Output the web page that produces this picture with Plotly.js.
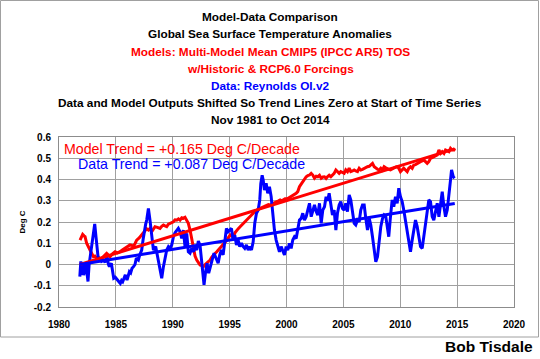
<!DOCTYPE html>
<html>
<head>
<meta charset="utf-8">
<script src="https://cdn.plot.ly/plotly-3.0.1.min.js"></script>
<style>
  html, body { margin: 0; padding: 0; background: #ffffff; }
  #chart { width: 540px; height: 359px; }
</style>
</head>
<body>
<div id="chart"></div>
<script>
// ---- Data ----
const dataYears = [
  1981.83,1981.92,1982.00,1982.08,1982.17,1982.29,1982.38,1982.46,1982.55,1982.65,1982.75,1982.85,1982.96,
  1983.05,1983.14,1983.25,1983.34,1983.43,1983.55,1983.65,1983.75,1983.93,1984.05,1984.22,1984.35,1984.43,
  1984.60,1984.70,1984.81,1984.95,1985.10,1985.25,1985.39,1985.50,1985.60,1985.72,1985.83,1985.98,1986.10,
  1986.19,1986.30,1986.42,1986.55,1986.68,1986.80,1986.98,1987.10,1987.27,1987.40,1987.50,1987.62,1987.71,
  1987.86,1988.00,1988.15,1988.30,1988.50,1988.62,1988.74,1988.88,1989.03,1989.18,1989.32,1989.47,1989.62,
  1989.76,1989.91,1990.06,1990.20,1990.35,1990.49,1990.64,1990.79,1990.93,1991.08,1991.23,1991.37,1991.52,
  1991.67,1991.82,1991.96,1992.11,1992.25,1992.40,1992.52,1992.62,1992.75,1992.87,1993.02,1993.16,1993.31,
  1993.46,1993.63,1993.84,1993.99,1994.13,1994.28,1994.43,1994.57,1994.72,1994.87,1995.01,1995.16,1995.31,
  1995.45,1995.60,1995.75,1995.89,1996.04,1996.18,1996.33,1996.48,1996.63,1996.77,1996.92,1997.07,1997.21,
  1997.36,1997.51,1997.65,1997.74,1997.86,1997.95,1998.06,1998.21,1998.35,1998.50,1998.65,1998.79,1998.94,
  1999.09,1999.23,1999.38,1999.53,1999.67,1999.82,1999.97,2000.11,2000.26,2000.41,2000.55,2000.70,2000.85,
  2000.99,2001.14,2001.29,2001.43,2001.58,2001.73,2001.87,2002.02,2002.17,2002.31,2002.46,2002.61,2002.75,
  2002.90,2003.05,2003.19,2003.34,2003.48,2003.62,2003.75,2003.90,2004.04,2004.19,2004.34,2004.48,2004.63,
  2004.77,2004.92,2005.07,2005.21,2005.36,2005.51,2005.65,2005.80,2005.95,2006.09,2006.24,2006.39,2006.53,
  2006.68,2006.83,2006.97,2007.12,2007.27,2007.41,2007.56,2007.71,2007.85,2008.00,2008.14,2008.29,2008.44,
  2008.58,2008.73,2008.88,2008.99,2009.14,2009.29,2009.43,2009.58,2009.73,2009.87,2010.02,2010.17,2010.31,
  2010.46,2010.61,2010.75,2010.90,2011.05,2011.19,2011.34,2011.49,2011.63,2011.78,2011.93,2012.07,2012.22,
  2012.37,2012.51,2012.66,2012.81,2012.95,2013.10,2013.25,2013.40,2013.54,2013.69,2013.84,2013.98,2014.13,
  2014.28,2014.42,2014.51,2014.66,2014.77
];
const dataValues = [
  -0.057,0.015,-0.050,0.010,-0.050,-0.020,0.005,-0.040,-0.080,0.000,0.037,0.080,0.115,
  0.160,0.191,0.131,0.080,0.037,0.021,0.030,0.015,0.021,0.010,0.037,0.000,-0.010,
  0.006,-0.040,-0.065,-0.060,-0.073,-0.080,-0.089,-0.075,-0.081,-0.060,-0.049,-0.073,-0.050,
  -0.034,-0.040,-0.018,-0.010,0.000,0.030,0.021,0.045,0.068,0.120,0.162,0.190,0.209,
  0.264,0.209,0.131,0.068,0.084,0.050,0.021,-0.026,-0.065,-0.010,0.021,0.068,0.084,
  0.076,0.092,0.131,0.150,0.162,0.170,0.154,0.123,0.162,0.084,0.147,0.060,0.053,
  0.076,0.060,0.084,0.068,0.110,0.090,0.020,-0.030,-0.096,-0.041,0.006,-0.041,-0.002,
  0.021,0.053,0.029,0.006,0.045,0.068,0.045,0.115,0.170,0.154,0.162,0.170,0.115,
  0.139,0.092,0.115,0.084,0.100,0.085,0.076,0.092,0.068,0.084,0.068,0.107,0.194,
  0.241,0.256,0.304,0.380,0.420,0.398,0.350,0.382,0.335,0.366,0.320,0.241,0.162,
  0.115,0.084,0.060,0.084,0.068,0.045,0.084,0.068,0.100,0.076,0.115,0.131,0.123,
  0.162,0.209,0.217,0.241,0.209,0.225,0.256,0.288,0.225,0.256,0.280,0.249,0.233,
  0.288,0.194,0.256,0.272,0.319,0.300,0.335,0.272,0.233,0.256,0.162,0.241,0.280,
  0.296,0.264,0.256,0.288,0.249,0.327,0.304,0.256,0.194,0.186,0.209,0.201,0.256,
  0.280,0.280,0.217,0.162,0.217,0.186,0.131,0.068,0.013,0.037,0.115,0.178,0.217,
  0.233,0.225,0.178,0.131,0.225,0.304,0.272,0.319,0.288,0.359,0.319,0.296,0.256,
  0.209,0.162,0.115,0.060,0.115,0.162,0.209,0.178,0.131,0.084,0.076,0.131,0.194,
  0.256,0.304,0.296,0.225,0.209,0.256,0.288,0.225,0.296,0.343,0.272,0.225,0.256,
  0.319,0.398,0.445,0.413,0.406
];
const modelYears = [
  1981.85,1981.95,1982.08,1982.20,1982.29,1982.43,1982.55,1982.67,1982.87,1983.02,1983.15,1983.31,1983.45,
  1983.61,1983.75,1983.90,1984.05,1984.19,1984.35,1984.49,1984.70,1984.93,1985.15,1985.37,1985.60,1985.80,
  1986.00,1986.24,1986.40,1986.54,1986.70,1986.83,1987.05,1987.27,1987.42,1987.56,1987.70,1987.86,1988.00,
  1988.15,1988.30,1988.44,1988.65,1988.88,1989.03,1989.18,1989.32,1989.47,1989.62,1989.76,1989.91,1990.06,
  1990.20,1990.35,1990.50,1990.64,1990.79,1990.93,1991.08,1991.23,1991.37,1991.52,1991.67,1991.82,1991.96,
  1992.11,1992.25,1992.40,1992.55,1992.70,1992.85,1992.99,1993.14,1993.28,1993.43,1993.57,1993.72,1993.87,
  1994.01,1994.16,1994.30,1994.45,1994.60,1994.75,1994.90,1995.04,1995.18,1995.33,1995.48,1995.63,1995.78,
  1995.92,1996.06,1996.21,1996.36,1996.50,1996.65,1996.80,1996.95,1997.09,1997.24,1997.39,1997.54,1997.68,
  1997.83,1997.97,1998.12,1998.27,1998.41,1998.56,1998.71,1998.85,1999.00,1999.15,1999.30,1999.44,1999.59,
  1999.74,1999.88,2000.11,2000.26,2000.41,2000.55,2000.70,2000.85,2000.99,2001.14,2001.29,2001.43,2001.58,
  2001.73,2001.87,2002.02,2002.17,2002.31,2002.46,2002.61,2002.75,2002.90,2003.05,2003.20,2003.34,2003.48,
  2003.60,2003.75,2003.90,2004.04,2004.19,2004.34,2004.48,2004.63,2004.77,2004.92,2005.07,2005.21,2005.36,
  2005.51,2005.65,2005.80,2005.95,2006.09,2006.24,2006.39,2006.53,2006.68,2006.83,2006.97,2007.12,2007.27,
  2007.41,2007.56,2007.71,2007.85,2008.00,2008.14,2008.29,2008.44,2008.58,2008.73,2008.88,2009.00,2009.14,
  2009.29,2009.43,2009.58,2009.73,2009.87,2010.02,2010.17,2010.31,2010.46,2010.61,2010.75,2010.90,2011.05,
  2011.19,2011.34,2011.49,2011.63,2011.78,2011.93,2012.07,2012.22,2012.37,2012.51,2012.66,2012.81,2012.95,
  2013.10,2013.25,2013.40,2013.54,2013.69,2013.84,2013.98,2014.13,2014.28,2014.42,2014.57,2014.72,2014.79
];
const modelValues = [
  0.115,0.130,0.142,0.135,0.131,0.100,0.085,0.076,0.053,0.037,0.040,0.029,0.035,
  0.021,0.030,0.037,0.045,0.053,0.045,0.037,0.050,0.060,0.055,0.060,0.070,0.076,
  0.085,0.092,0.090,0.084,0.100,0.115,0.125,0.139,0.150,0.162,0.168,0.162,0.170,
  0.154,0.165,0.178,0.175,0.170,0.180,0.186,0.182,0.178,0.190,0.194,0.198,0.201,
  0.210,0.209,0.215,0.209,0.220,0.217,0.222,0.209,0.194,0.162,0.115,0.068,0.040,
  0.021,0.008,-0.002,-0.005,-0.010,0.000,0.006,0.012,0.021,0.035,0.045,0.052,0.060,
  0.068,0.076,0.085,0.092,0.105,0.115,0.128,0.139,0.133,0.131,0.150,0.162,0.170,
  0.178,0.186,0.194,0.200,0.209,0.218,0.225,0.232,0.241,0.250,0.256,0.262,0.264,
  0.268,0.272,0.276,0.280,0.282,0.280,0.285,0.288,0.292,0.296,0.300,0.304,0.300,
  0.304,0.310,0.311,0.316,0.319,0.322,0.327,0.335,0.343,0.366,0.378,0.390,0.400,
  0.413,0.418,0.421,0.429,0.421,0.406,0.415,0.413,0.420,0.406,0.412,0.413,0.405,
  0.413,0.420,0.413,0.420,0.429,0.445,0.437,0.429,0.437,0.432,0.429,0.445,0.437,
  0.453,0.437,0.440,0.445,0.440,0.437,0.453,0.445,0.448,0.453,0.455,0.460,0.462,
  0.468,0.476,0.460,0.453,0.448,0.445,0.453,0.445,0.460,0.455,0.453,0.448,0.445,
  0.450,0.453,0.458,0.460,0.453,0.437,0.445,0.453,0.445,0.437,0.453,0.460,0.453,
  0.468,0.470,0.476,0.478,0.484,0.488,0.492,0.484,0.476,0.484,0.500,0.503,0.507,
  0.510,0.515,0.539,0.523,0.531,0.523,0.539,0.535,0.531,0.547,0.539,0.539,0.547
];
// Trend lines (start and end of the time series)
const trendYears = [1981.83, 2014.79];
const modelTrend = [0.0, 0.544];
const dataTrend = [0.0, 0.287];

// Axis ticks
const yTickVals = [-0.2, -0.1, 0, 0.1, 0.2, 0.3, 0.4, 0.5, 0.6];
const yTickText = ['-0.2', '-0.1', '0', '0.1', '0.2', '0.3', '0.4', '0.5', '0.6'];
const xTickVals = [1980, 1985, 1990, 1995, 2000, 2005, 2010, 2015, 2020];

// Texts
const titleLines = [
  {text: 'Model-Data Comparison', color: '#000000'},
  {text: 'Global Sea Surface Temperature Anomalies', color: '#000000'},
  {text: 'Models: Multi-Model Mean CMIP5 (IPCC AR5) TOS', color: '#ff0000'},
  {text: 'w/Historic &amp; RCP6.0 Forcings', color: '#ff0000'},
  {text: 'Data: Reynolds OI.v2', color: '#0000ff'},
  {text: 'Data and Model Outputs Shifted So Trend Lines Zero at Start of Time Series', color: '#000000'},
  {text: 'Nov 1981 to Oct 2014', color: '#000000'}
];
const modelTrendLabel = 'Model Trend = +0.165 Deg C/Decade';
const dataTrendLabel = 'Data Trend = +0.087 Deg C/Decade';
const credit = 'Bob Tisdale';

// ---- Layout helpers (pixel -> paper) ----
const W = 540, H = 359;
const M = {l: 59, r: 26, t: 137, b: 52};
const pw = W - M.l - M.r, ph = H - M.t - M.b;
const px = x => (x - M.l) / pw;
const py = y => (H - M.b - y) / ph;

const RED = '#ff0000', BLUE = '#0000ff';
const FONT = '"Liberation Sans", Arial, sans-serif';

const traces = [
  {x: modelYears, y: modelValues, type: 'scatter', mode: 'lines', name: 'Model',
   line: {color: RED, width: 3}, hoverinfo: 'skip'},
  {x: dataYears, y: dataValues, type: 'scatter', mode: 'lines', name: 'Data',
   line: {color: BLUE, width: 3}, hoverinfo: 'skip'},
  {x: trendYears, y: modelTrend, type: 'scatter', mode: 'lines', name: 'Model Trend',
   line: {color: RED, width: 3}, hoverinfo: 'skip'},
  {x: trendYears, y: dataTrend, type: 'scatter', mode: 'lines', name: 'Data Trend',
   line: {color: BLUE, width: 3}, hoverinfo: 'skip'}
];

const titleY = [17, 34.5, 52, 69, 86, 103, 120];
const annotations = titleLines.map((t, i) => ({
  xref: 'paper', yref: 'paper', x: px(270), y: py(titleY[i]),
  xanchor: 'center', yanchor: 'middle', showarrow: false,
  text: '<b>' + t.text + '</b>',
  font: {family: FONT, size: 11.8, color: t.color}
}));
annotations.push({
  xref: 'paper', yref: 'paper', x: px(62), y: py(149), xanchor: 'left', yanchor: 'middle',
  showarrow: false, text: modelTrendLabel, font: {family: FONT, size: 14.2, color: RED}
});
annotations.push({
  xref: 'paper', yref: 'paper', x: px(76), y: py(164), xanchor: 'left', yanchor: 'middle',
  showarrow: false, text: dataTrendLabel, font: {family: FONT, size: 14.2, color: BLUE}
});
annotations.push({
  xref: 'paper', yref: 'paper', x: px(535), y: py(346), xanchor: 'right', yanchor: 'middle',
  showarrow: false, text: '<b>' + credit + '</b>', font: {family: FONT, size: 15.5, color: '#000000'}
});

const layout = {
  width: W, height: H,
  margin: M,
  paper_bgcolor: '#ffffff', plot_bgcolor: '#ffffff',
  showlegend: false,
  font: {family: FONT, color: '#000000'},
  xaxis: {
    range: [1980, 2020], tickvals: xTickVals, ticks: '', showgrid: true,
    gridcolor: '#a0a0a0', gridwidth: 1, zeroline: false,
    showline: true, linecolor: '#8c8c8c', linewidth: 1, mirror: true,
    ticklabelstandoff: 8,
    tickfont: {family: FONT, size: 10, color: '#000000', weight: 'bold'}
  },
  yaxis: {
    range: [-0.2, 0.6], tickvals: yTickVals, ticktext: yTickText, ticks: '', showgrid: true,
    gridcolor: '#a0a0a0', gridwidth: 1, zeroline: false,
    showline: true, linecolor: '#8c8c8c', linewidth: 1, mirror: true,
    ticklabelstandoff: 5,
    tickfont: {family: FONT, size: 10, color: '#000000', weight: 'bold'},
    title: {text: '<b>Deg C</b>', font: {family: FONT, size: 8, color: '#000000'}, standoff: 6}
  },
  shapes: [{
    type: 'rect', xref: 'paper', yref: 'paper',
    x0: px(0.5), x1: px(538.5), y0: py(337), y1: py(0.5),
    line: {color: '#a0a0a0', width: 1}, fillcolor: 'rgba(0,0,0,0)', layer: 'below'
  }],
  annotations: annotations
};

Plotly.newPlot('chart', traces, layout, {staticPlot: true, displayModeBar: false});
</script>
</body>
</html>
